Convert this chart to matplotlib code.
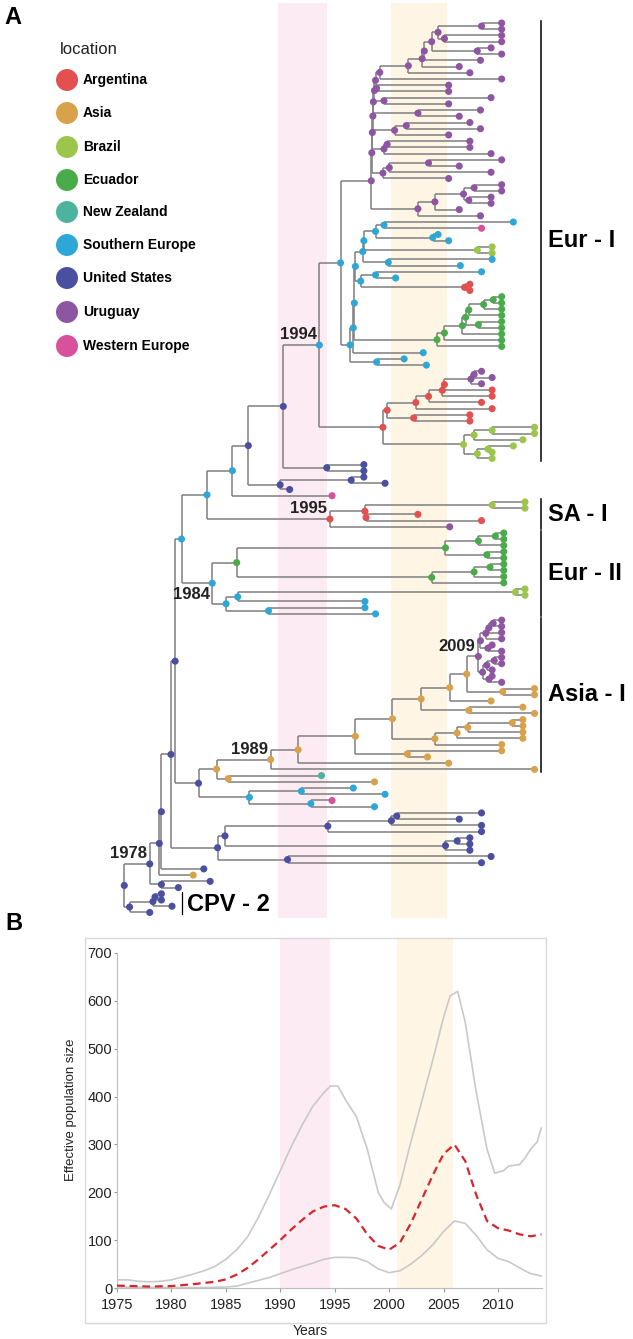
import matplotlib.pyplot as plt
from matplotlib.patches import Rectangle

plt.rcParams['font.family'] = ['Liberation Sans', 'DejaVu Sans']

# ---- legend / location colours ----
loc_codes = ['AR', 'AS', 'BR', 'EC', 'NZ', 'SE', 'US', 'UY', 'WE']
loc_names = ['Argentina', 'Asia', 'Brazil', 'Ecuador', 'New Zealand',
             'Southern Europe', 'United States', 'Uruguay', 'Western Europe']
loc_colors = ['#e2504f', '#d8a24b', '#9cc54b', '#4aab4b', '#4db39c',
              '#2ea7d6', '#4a4f9f', '#8e55a3', '#d9519a']
col = dict(zip(loc_codes, loc_colors))

# ---- tree (newick-like: LOC:year, optional #label) ----
uy = "((UY:2011.1,UY:2011.1)UY:2009.2,(UY:2011.1,UY:2011.1)UY:2005.7)UY:2005.1"
uy = f"({uy},(UY:2010.1,UY:2011.1)UY:2008.8)UY:2004.5"
uy = f"({uy},UY:2009.1)UY:2003.8"
uy = f"({uy},UY:2007.1)UY:2003.6"
uy = f"({uy},UY:2008.1)UY:2002.3"
uy = f"({uy},UY:2011.1)UY:1999.6"
uy_groups = [
    "(UY:2006.1,UY:2006.1)UY:1999.3",
    "(UY:2010.1,UY:2006.1)UY:2000.0",
    "(UY:2009.1,UY:2007.1)UY:2003.2",
    "((UY:2008.1,UY:2009.1)UY:2002.1,UY:2006.1)UY:2001.0",
    "((UY:2008.1,UY:2008.1)UY:2000.3,UY:2010.1)UY:2000.0",
    "(((UY:2011.1,UY:2007.1)UY:2004.2,UY:2010.1)UY:2000.5,UY:2006.1)UY:1999.9",
]
comb_years = [1999.2, 1999.1, 1999.0, 1998.95, 1998.9, 1998.85]
for g, yr in zip(uy_groups, comb_years):
    uy = f"({uy},{g})UY:{yr}"
uy_low = ("((((UY:2011.1,UY:2011.1)UY:2008.5,(UY:2010.1,UY:2010.1)UY:2008.0)UY:2007.5,"
          "UY:2007.1)UY:2004.8,UY:2009.1)UY:2003.2")
uy = f"({uy},{uy_low})UY:1998.8"

se = "((SE:2012.2,WE:2009.2)SE:2000.0,(SE:2005.1,SE:2006.1)SE:2004.6)SE:1999.2"
se = f"({se},(BR:2010.2,BR:2010.2)BR:2008.8)SE:1998.1"
se = f"({se},(SE:2010.2,SE:2007.2)SE:2000.4)SE:1998.0"
se = f"({se},((SE:2009.2,SE:2001.1)SE:1999.2,(AR:2008.1,AR:2008.1)AR:2007.6)SE:1997.8)SE:1997.3"
ec = "(EC:2011.1,EC:2011.1)EC:2010.3"
ec = f"({ec},EC:2011.1)EC:2009.4"
ec = f"({ec},EC:2011.1)EC:2008.0"
ec = f"({ec},(EC:2011.1,EC:2011.1)EC:2008.9)EC:2007.7"
ec = f"({ec},EC:2011.1)EC:2007.4"
ec = f"({ec},EC:2011.1)EC:2005.7"
ec = f"({ec},EC:2011.1)EC:2005.0"
se = f"({se},{ec})SE:1997.2"
se = f"({se},SE:2003.7)SE:1997.1"
se = f"({se},(SE:2001.9,SE:2004.0)SE:1999.3)SE:1996.8"
eur1_top = f"({uy},{se})SE:1995.9"

ar = "(UY:2009.2,UY:2010.2)UY:2008.5"
ar = f"({ar},UY:2009.2)UY:2008.2"
ar = f"({ar},AR:2010.2)AR:2005.7"
ar = f"({ar},AR:2010.2)AR:2005.5"
ar = f"({ar},AR:2009.2)AR:2004.2"
ar = f"({ar},AR:2010.2)AR:2003.0"
ar = f"({ar},(AR:2008.1,AR:2008.1)AR:2002.8)AR:2000.3"
br = ("(((BR:2014.2,BR:2014.2)BR:2010.2,BR:2013.1)BR:2008.5,"
      "((BR:2012.2,BR:2010.2)BR:2009.8,BR:2010.2)BR:2008.8)BR:2007.5")
eur1 = f"({eur1_top},({ar},{br})AR:1999.9)SE:1993.9#1994"

us = f"({eur1},(US:1998.1,US:1998.1)US:1994.6)US:1990.5"
us = f"({us},((US:1998.1,US:2000.1)US:1996.9,US:1991.1)US:1990.2)US:1987.2"
us = f"({us},WE:1995.1)SE:1985.7"
sa = "((BR:2013.3,BR:2013.3)BR:2010.2,(AR:2003.2,AR:2009.2)AR:1998.3)AR:1998.2"
sa = f"({sa},UY:2006.2)AR:1994.9#1995"
mid = f"({us},{sa})SE:1983.3"

e2 = ("(((EC:2011.3,EC:2011.3)EC:2010.5,EC:2011.3)EC:2008.9,"
      "(EC:2011.3,EC:2011.3)EC:2009.7)EC:2005.8")
e2 = f"({e2},(((EC:2011.3,EC:2011.3)EC:2010.0,EC:2011.3)EC:2008.5,EC:2011.3)EC:2004.5)EC:1986.1"
e2 = (f"({e2},(((BR:2013.3,BR:2013.3)BR:2012.4,SE:1998.2)SE:1986.2,"
      f"(SE:1998.2,SE:1999.2)SE:1989.1)SE:1985.1)SE:1983.8#1984")
mid = f"({mid},{e2})SE:1980.9"

uy2 = ("((((UY:2011.1,UY:2011.1)UY:2010.3,UY:2011.1)UY:2009.9,UY:2011.1)UY:2009.6,"
       "(UY:2010.2,UY:2011.1)UY:2009.8)UY:2009.1")
uy2_low = ("(((UY:2011.1,UY:2011.1)UY:2010.4,UY:2010.2)UY:2009.7,"
           "(UY:2010.2,UY:2011.1)UY:2009.9)UY:2009.3")
asia = f"(({uy2},{uy2_low})UY:2008.9#2009,(AS:2014.2,AS:2014.2)AS:2011.2)AS:2007.8"
asia = f"({asia},AS:2010.1)AS:2006.2"
asia = f"({asia},(AS:2013.1,AS:2014.2)AS:2008.0)AS:2003.5"
as_b = "(AS:2013.1,AS:2013.1)AS:2012.1"
as_b = f"({as_b},AS:2013.1)AS:2007.9"
as_b = f"({as_b},AS:2013.1)AS:2006.9"
as_b = f"({as_b},AS:2011.1)AS:2004.8"
asia = f"({asia},{as_b})AS:2000.8"
asia = f"({asia},(AS:2011.1,AS:2004.1)AS:2002.2)AS:1997.3"
asia = f"({asia},AS:2006.1)AS:1991.9"
asia = f"({asia},AS:2014.2)AS:1989.3#1989"
asia = f"({asia},(NZ:1994.1,AS:1999.1)AS:1985.3)AS:1984.2"
se_c = "((SE:1997.1,SE:2000.1)SE:1992.2,(WE:1995.1,SE:1999.1)SE:1993.1)SE:1987.3"
low = f"({mid},({asia},{se_c})US:1982.5)US:1980.3"

usb = "(((US:2009.2,US:2007.1)US:2001.2,US:2009.2)US:2000.7,US:2009.2)US:1994.7"
usb = f"({usb},((US:2008.1,US:2008.1)US:2006.9,US:2008.1)US:2005.8)US:1985.0"
usb = f"({usb},(US:2010.1,US:2009.2)US:1990.9)US:1984.3"
tree = f"({low},{usb})US:1979.9"
tree = f"({tree},US:1983.0)US:1979.0"
tree = f"({tree},AS:1982.0)US:1978.8"
tree = f"({tree},(US:1983.6,US:1980.6)US:1979.0)US:1977.9#1978"
cpv = "(((US:1979.0,US:1979.0)US:1978.4,US:1980.0)US:1978.2,US:1977.9)US:1976.0"
tree = f"({tree},{cpv})US:1975.5"

# clade bars: name, first tip, last tip
clades = [('Eur - I', 0, 70), ('SA - I', 77, 81), ('Eur - II', 82, 95), ('Asia - I', 96, 120)]
cpv_clade = ('CPV - 2', 140, 143)

# shaded periods (years)
bands = [(1990.0, 1994.6, '#fcebf2'), (2000.7, 2005.9, '#fef5e4')]

# ---- skyline plot ----
up_years = [1975, 1976, 1977, 1978, 1979, 1980, 1981, 1982, 1983, 1984, 1985, 1986, 1987,
            1988, 1989, 1990, 1991, 1992, 1993, 1994, 1994.6, 1995.3, 1996, 1997, 1998,
            1999, 1999.5, 2000.2, 2001, 2002, 2003, 2004, 2005, 2005.6, 2006.3, 2007,
            2008, 2009, 2009.7, 2010.5, 2011, 2012, 2012.5, 2013, 2013.6, 2014]
up_vals = [17, 17, 14, 13, 14, 17, 23, 29, 36, 45, 60, 80, 107,
           148, 195, 245, 295, 340, 380, 408, 422, 422, 393, 358, 290,
           200, 180, 165, 215, 305, 390, 475, 565, 610, 620, 555,
           410, 290, 240, 245, 255, 258, 272, 290, 305, 335]
med_years = [1975, 1978, 1980, 1982, 1984, 1985, 1986, 1987, 1988, 1989, 1990, 1991, 1992,
             1993, 1994, 1995, 1996, 1997, 1998, 1999, 2000, 2001, 2002, 2003, 2004,
             2005, 2006, 2007, 2008, 2009, 2010, 2011, 2012, 2013, 2014]
med_vals = [5, 3, 4, 8, 13, 18, 28, 42, 60, 80, 100, 122, 142,
            160, 170, 173, 165, 145, 112, 88, 80, 95, 135, 185, 235,
            280, 300, 265, 195, 140, 125, 120, 112, 108, 112]
lo_years = [1975, 1980, 1983, 1985, 1986, 1987, 1988, 1989, 1990, 1991, 1992, 1993, 1994,
            1995, 1996, 1997, 1998, 1999, 2000, 2001, 2002, 2003, 2004, 2005, 2006,
            2007, 2008, 2009, 2010, 2011, 2012, 2013, 2014]
lo_vals = [2, 1, 1, 2, 4, 10, 16, 22, 30, 38, 45, 52, 60,
           64, 64, 63, 55, 40, 32, 36, 50, 68, 90, 118, 140,
           135, 110, 80, 62, 55, 42, 30, 25]


def parse(s):
    pos = 0

    def node():
        nonlocal pos
        kids = []
        if s[pos] == '(':
            pos += 1
            kids.append(node())
            while s[pos] == ',':
                pos += 1
                kids.append(node())
            pos += 1
        j = pos
        while pos < len(s) and s[pos] not in ',)':
            pos += 1
        loc, rest = s[j:pos].split(':')
        yr, _, tag = rest.partition('#')
        return {'loc': loc, 'x': float(yr), 'tag': tag, 'kids': kids}
    return node()


root = parse(tree)
tips = [0]


def set_y(n):
    if not n['kids']:
        n['y'] = tips[0]
        tips[0] += 1
    else:
        for k in n['kids']:
            set_y(k)
        n['y'] = (n['kids'][0]['y'] + n['kids'][-1]['y']) / 2


set_y(root)

W, H = 633, 1339
fig = plt.figure(figsize=(W / 100, H / 100), dpi=100)

# ---- panel A ----
axA = fig.add_axes([0, 1 - 925 / H, 1, 925 / H])
axA.set_xlim(1990 - 278 / 10.6, 1990 + 355 / 10.6)
axA.set_ylim((925 - 23) / 6.22, -23 / 6.22)
axA.axis('off')
for a, b, c in bands:
    axA.axvspan(a, b, ymin=0.008, ymax=0.997, color=c, lw=0, zorder=0)

nodes = []


def draw(n):
    nodes.append(n)
    if n['kids']:
        ys = [k['y'] for k in n['kids']]
        axA.plot([n['x'], n['x']], [min(ys), max(ys)], color='#7f7f7f', lw=1.1, zorder=1,
                 solid_capstyle='butt')
        for k in n['kids']:
            axA.plot([n['x'], k['x']], [k['y'], k['y']], color='#7f7f7f', lw=1.1, zorder=1,
                     solid_capstyle='butt')
            draw(k)


draw(root)
axA.scatter([n['x'] for n in nodes], [n['y'] for n in nodes],
            c=[col[n['loc']] for n in nodes], s=26, lw=0, zorder=3)

for n in nodes:
    if n['tag']:
        below = n['tag'] == '1984'
        axA.annotate(n['tag'], (n['x'], n['y']), xytext=(-2, -3 if below else 2),
                     textcoords='offset points', ha='right',
                     va='top' if below else 'bottom', fontsize=12, fontweight='bold',
                     color='#222222')

bar_x = 2014.8
for name, i0, i1 in clades:
    axA.plot([bar_x, bar_x], [i0 - 0.4, i1 + 0.4], color='black', lw=1.1)
    axA.text(bar_x + 0.65, (i0 + i1) / 2, name, fontsize=17, fontweight='bold',
             va='center', ha='left')
name, i0, i1 = cpv_clade
axA.plot([1980.9, 1980.9], [i0 - 0.3, i1 + 0.3], color='black', lw=0.9)
axA.text(1981.4, (i0 + i1) / 2 + 0.3, name, fontsize=17, fontweight='bold',
         va='center', ha='left')

# ---- panel B ----
axB = fig.add_axes([117 / W, 1 - 1288 / H, 425 / W, 335 / H])
axB.set_xlim(1975, 2014.05)
axB.set_ylim(0, 700)
for a, b, c in bands:
    axB.axvspan(a, b, ymin=0, ymax=1.045, color=c, lw=0, zorder=0, clip_on=False)
axB.plot(up_years, up_vals, color='#c9c9c9', lw=1.2, zorder=2)
axB.plot(lo_years, lo_vals, color='#c9c9c9', lw=1.2, zorder=2)
axB.plot(med_years, med_vals, color='#d7262b', lw=1.6, ls=(0, (3.5, 2.2)), zorder=3)
axB.set_xticks(range(1975, 2011, 5))
axB.set_yticks(range(0, 701, 100))
axB.tick_params(axis='y', length=2, pad=1.5, labelsize=10.5, color='#999999',
                labelcolor='#222222')
axB.tick_params(axis='x', length=3, pad=4, labelsize=10.5, color='#999999',
                labelcolor='#222222')
for s in ['top', 'right']:
    axB.spines[s].set_visible(False)
for s in ['left', 'bottom']:
    axB.spines[s].set_color('#bdbdbd')
axB.patch.set_alpha(0)

# ---- overlay: legend, panel letters, frame ----
ov = fig.add_axes([0, 0, 1, 1])
ov.set_xlim(0, W)
ov.set_ylim(H, 0)
ov.axis('off')
ov.patch.set_alpha(0)
ov.text(13, 17, 'A', fontsize=17, fontweight='bold', ha='center', va='center')
ov.text(14, 924, 'B', fontsize=17, fontweight='bold', ha='center', va='center')
ov.text(60, 49, 'location', fontsize=12, ha='left', va='center', color='#222222')
leg_y = [80, 113, 147, 180, 212, 245, 278, 312, 346]
ov.scatter([67] * len(leg_y), leg_y, s=250, c=loc_colors, lw=0)
for yy, nm in zip(leg_y, loc_names):
    ov.text(83, yy, nm, fontsize=10, fontweight='bold', ha='left', va='center')
ov.add_patch(Rectangle((85, 938), 461, 385, fill=False, ec='#d9d9d9', lw=1))
ov.text(71, 1110, 'Effective population size', rotation=90, fontsize=9.5,
        ha='center', va='center', color='#222222')
ov.text(310, 1331, 'Years', fontsize=10, ha='center', va='center', color='#222222')

fig.savefig('out.png', dpi=100)
